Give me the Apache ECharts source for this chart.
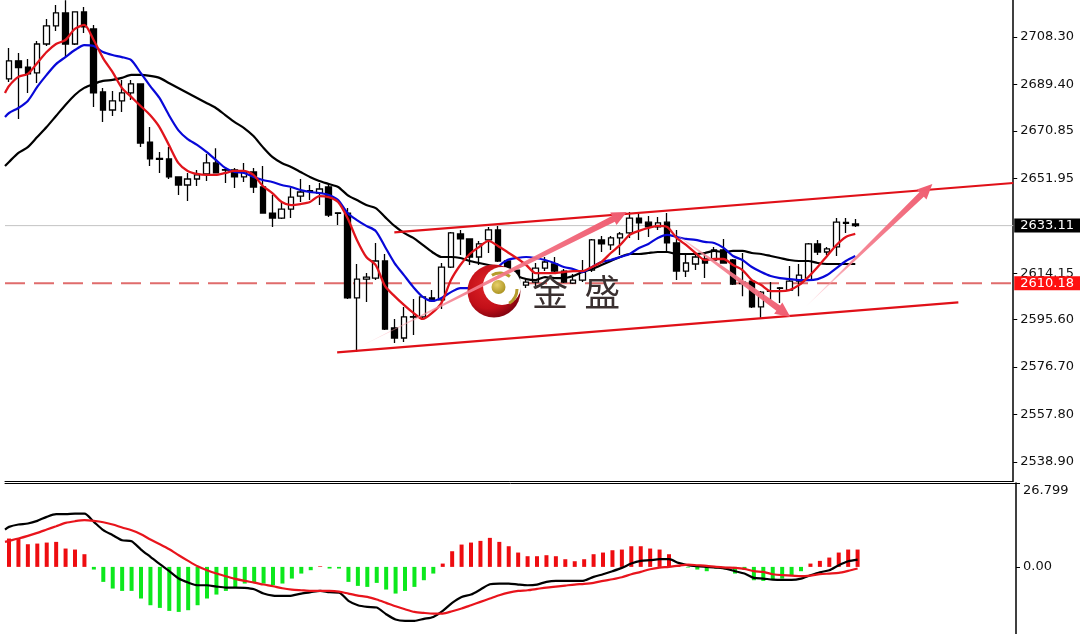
<!DOCTYPE html>
<html>
<head>
<meta charset="utf-8">
<style>html,body{margin:0;padding:0;background:#fff}#c{width:1083px;height:634px}</style>
<script src="https://cdn.jsdelivr.net/npm/echarts@6/dist/echarts.min.js"></script>
</head>
<body>
<div id="c"></div>
<script>
var opens=[2691.6,2698.8,2696.3,2694,2705.5,2712.7,2717.9,2705.5,2718.3,2711.5,2686.4,2679.2,2682.8,2686,2689.6,2666.4,2659.9,2659.7,2652.5,2649.3,2651.7,2653.7,2658.1,2655.4,2655.3,2652.5,2654.5,2648.5,2638.1,2636.1,2639.7,2644.9,2647,2646.1,2648.5,2638.2,2638.1,2604.3,2611.8,2612.2,2619,2592.3,2588.3,2596.8,2596.7,2604.3,2603.5,2616.6,2629.8,2627.8,2620.6,2627.4,2631.4,2619,2615.4,2609.4,2610.6,2616.2,2617.8,2615,2610.2,2611.4,2615.4,2627.4,2625.4,2628.2,2630.2,2636.1,2634.5,2632.6,2634.5,2626.2,2615,2617.8,2619.8,2619.4,2623.4,2619.4,2610.6,2611,2600.7,2607.1,2608.3,2607.4,2611,2611.4,2625.8,2622.6,2624.6,2634.4,2633.8];
var closes=[2698.8,2696.1,2693.6,2705.5,2712.7,2717.9,2705.5,2718.3,2712.3,2686,2679.2,2682.8,2686,2689.6,2666,2659.7,2659.5,2652.5,2649.3,2651.7,2653.3,2658.1,2654.1,2655.2,2652.5,2654.5,2648.5,2638.1,2636.1,2639.7,2644.5,2646.5,2646.8,2647.7,2637.3,2638,2604.3,2611.8,2612.6,2619,2591.9,2588.3,2596.7,2596.6,2604.7,2603.1,2616.6,2630.2,2627.8,2620.6,2625.8,2631.4,2619,2615.4,2609.8,2610.6,2616.2,2618.6,2615,2610.6,2611.4,2614.6,2627.4,2625.8,2628.2,2629.8,2636.1,2634.2,2632.6,2634.2,2626.2,2615,2618.2,2620.6,2618.2,2623.4,2618.2,2609.8,2610,2600.7,2606.6,2606.9,2608.1,2611,2613.4,2625.8,2622.6,2623.8,2634.5,2634,2633.11];
var lows=[2690.4,2675.6,2686,2690,2704.7,2710.7,2700.3,2705.1,2709.9,2680.4,2674.4,2676.8,2678.4,2683.2,2664.4,2656.9,2654.1,2651.7,2645.3,2642.9,2648.9,2650.9,2654.1,2650.1,2648.1,2650.5,2646.1,2638.1,2632.6,2635.7,2636.1,2642.5,2643.3,2641.3,2636.5,2633.4,2603.9,2582.7,2602.7,2611.4,2591.5,2586.3,2586.7,2589.5,2595.5,2602.7,2599.9,2616.2,2621.4,2617.4,2617.4,2622.2,2618.6,2614.2,2609.4,2608.2,2608.6,2615,2614.6,2610.2,2609.8,2610.6,2614.6,2622.6,2623.4,2621.4,2628.2,2627.4,2628.6,2631.4,2622.6,2611.4,2612.6,2615.4,2612.2,2619,2618.2,2609.4,2605,2600.3,2595.9,2603.5,2602.3,2607.4,2605,2611.4,2621.4,2621.4,2621,2630.2,2632.6];
var highs=[2703.9,2701.9,2699.5,2706.7,2715.5,2721.1,2723,2718.3,2720.3,2713.1,2688,2686.8,2691.2,2691.2,2689.6,2672.4,2662.5,2664.4,2652.5,2654.1,2655.3,2661.7,2664,2656.5,2656.1,2658.1,2656.1,2656.9,2645.3,2642.5,2648.1,2651.7,2649.3,2650.1,2650.1,2638.2,2640.1,2617.8,2614.2,2626.2,2621.8,2595.9,2600.7,2603.9,2604.9,2607.4,2618.2,2630.6,2631.4,2627.8,2627,2632.6,2633,2619,2615.4,2611.4,2618.2,2620.6,2620.6,2615.8,2613.8,2619.4,2627.8,2629,2629,2630.6,2638.5,2638.1,2636.9,2636.5,2638.1,2631.4,2622.2,2622.2,2622.2,2624.6,2627.8,2619.8,2622.2,2611.4,2607,2610.6,2608.6,2617,2617.8,2626.2,2627.4,2624.6,2636.1,2636.1,2635.7];
// first element of every line is the value at the left edge of the plot
var maRed=[2686,2688.8,2692.4,2693.6,2697.9,2702.3,2705.5,2707.1,2711.5,2713.1,2707.1,2699.9,2694.4,2688,2684.4,2680.8,2677.2,2672.4,2665.3,2658.1,2654.9,2653.7,2653.3,2653.3,2654.1,2654.9,2654.9,2653.3,2648.9,2646.1,2642.5,2641.3,2641.7,2642.5,2644.9,2644.5,2642.5,2636.1,2627.4,2620.6,2617.4,2609,2605,2601.5,2598.3,2595.9,2598.3,2602.3,2611.4,2617.4,2621.8,2624.6,2627,2625,2622.6,2620.2,2617.4,2614.2,2614.2,2614.2,2614.6,2615,2615,2616.6,2618.6,2622.2,2625.4,2629.4,2631,2632.2,2633,2632.6,2628.2,2625.4,2622.2,2619.4,2619.8,2619.8,2617.4,2615.4,2611.4,2609.4,2607,2607,2607.4,2609.4,2612.6,2616.6,2621,2625.4,2628.6,2629.8];
var maBlue=[2676.4,2678,2680,2682.8,2688.4,2693.2,2697.5,2700.3,2703.1,2705.1,2704.7,2702.3,2701.1,2700.3,2699.1,2694,2688.8,2684,2677.2,2671.2,2667.6,2665.3,2662.5,2659.3,2656.1,2654.5,2654.1,2652.5,2651.3,2650.5,2649.3,2648.5,2647.3,2646.5,2646.1,2645.3,2643.3,2638.1,2635.3,2633,2631,2624.6,2618.2,2613.4,2608.6,2604.7,2603.1,2604.3,2606.6,2608.2,2608.2,2609.4,2612.2,2616.6,2619.4,2620.2,2620.6,2620.2,2619.4,2618.2,2616.6,2615.8,2614.6,2616.6,2618.6,2619.4,2620.6,2621.8,2624.2,2625.8,2628.2,2629.4,2628.6,2627.8,2627.4,2626.6,2626.2,2624.2,2621,2619.4,2616.6,2614.6,2613,2612.2,2611.8,2611.4,2611.4,2611.8,2613.4,2616.2,2619,2621];
var maBlack=[2656.9,2658.5,2662.1,2664.4,2668.4,2672.4,2676.8,2681.2,2685.2,2688,2689.6,2690.8,2691.2,2692,2693.2,2693.2,2692.8,2692,2690,2688,2686,2684,2682,2680,2677.2,2674.4,2672,2668.8,2664.4,2660.5,2658.1,2656.5,2654.5,2652.5,2650.9,2649.7,2648.5,2645.3,2643.3,2641.3,2640.1,2636.5,2633,2630.2,2628.2,2625.4,2622.6,2620.6,2620.6,2620.2,2619,2618.2,2617.4,2616.6,2614.6,2613,2611.8,2611.4,2612.6,2612.2,2612.2,2613,2614.6,2615.8,2617.4,2619,2620.6,2621.8,2621.8,2622.2,2622.6,2622.6,2621.8,2621.8,2621.8,2622.2,2623,2622.6,2623,2623,2622.2,2621.8,2621,2620.2,2619.4,2619,2619,2618.2,2617.8,2617.8,2617.8,2617.8];
var histogram=[9.05,9.05,7.24,7.45,7.77,7.99,5.86,5.54,4.05,-0.85,-4.79,-6.92,-7.67,-7.67,-10.1,-12.25,-13.1,-14.06,-14.38,-13.84,-12.25,-10.1,-8.84,-7.67,-6.6,-5.32,-5.11,-5.32,-5.86,-5.32,-3.73,-2.13,-1.06,0.2,-0.53,-0.53,-4.79,-6.07,-6.39,-5.11,-7.24,-8.52,-7.67,-6.39,-4.26,-2.13,1.06,5,7.13,7.77,8.31,9.27,7.99,6.6,4.58,3.41,3.41,3.73,3.41,2.45,1.81,2.45,4.05,4.58,5.32,5.54,6.6,6.6,5.86,5.54,4.05,0.5,-0.2,-0.85,-1.38,-0.5,-0.85,-2.13,-1,-4.26,-4.47,-4.05,-3.73,-2.66,-1.38,1.06,1.92,2.98,4.58,5.54,5.54];
var macdLine=[11.93,12.78,13.53,13.85,14.7,15.98,16.83,16.83,17.04,17.04,14.38,11.72,10.12,8.52,8.2,5.54,3.2,0.85,-1.38,-3.73,-5.01,-5.86,-5.86,-6.28,-6.6,-6.6,-6.71,-7.14,-8.52,-9.16,-9.27,-9.16,-8.52,-8.09,-7.67,-8.09,-8.2,-10.86,-12.25,-12.78,-12.99,-15.12,-16.83,-17.25,-17.25,-16.61,-15.98,-14.06,-11.5,-9.59,-8.84,-7.24,-5.54,-5.33,-5.33,-5.64,-5.86,-5.64,-4.79,-4.47,-4.47,-4.47,-4.37,-3.2,-2.34,-1.38,-0.32,1.07,1.92,2.13,2.45,2.45,1.28,0.53,0.21,0,-0.21,-0.53,-1.38,-2.13,-3.51,-3.73,-4.05,-4.15,-4.15,-3.73,-2.66,-1.7,-1.07,0.53,1.81,2.34];
var signalLine=[7.99,8.31,9.05,9.9,10.86,11.93,12.99,14.06,14.59,14.91,14.7,14.27,13.53,12.57,11.72,10.44,8.73,7.24,5.64,3.73,1.92,0.21,-1.07,-2.13,-2.98,-3.83,-4.47,-5.01,-5.64,-6.18,-6.82,-7.24,-7.46,-7.67,-7.67,-7.67,-7.88,-8.52,-9.16,-9.59,-10.44,-11.5,-12.57,-13.53,-14.38,-14.7,-14.91,-14.91,-14.17,-13.31,-12.25,-11.18,-10.12,-9.05,-8.2,-7.67,-7.46,-7.03,-6.6,-6.28,-5.96,-5.64,-5.43,-5.11,-4.47,-3.94,-3.3,-2.34,-1.6,-0.75,-0.21,0,0.43,0.75,0.53,0.32,0,-0.21,-0.32,-0.64,-1.38,-1.6,-2.34,-2.66,-2.77,-2.98,-2.77,-2.34,-2.13,-1.92,-1.28,-0.53];
var priceTicks=[2708.30,2689.40,2670.85,2651.95,2614.15,2595.60,2576.70,2557.80,2538.90];
var lastPrice=2633.11, alertPrice=2610.18;
var macdTicks=[26.799,0];
var upperChannel=[[40.98,2630.4],[106.8,2650.1]];
var lowerChannel=[[34.9,2582.6],[100.96,2602.5]];
var arrows=[[37.05,2584.3,65.7,2638.5],[69.85,2632.6,83.1,2596.7],[84.7,2600.7,98.2,2649.7]];

var xMin=-0.425, xMax=106.8;
var ohlc=opens.map(function(o,i){return [i,o,closes[i],lows[i],highs[i]];});
function pts(a){return a.map(function(v,k){return [k===0?xMin:k-1,v];});}
function line(name,data,color,w,xi,yi,z,extra){
  return Object.assign({name:name,type:'line',data:data,xAxisIndex:xi,yAxisIndex:yi,symbol:'none',silent:true,
    lineStyle:{color:color,width:w},z:z,animation:false},extra||{});
}
function arrowItem(params,api){
  var a=api.coord([api.value(0),api.value(1)]), b=api.coord([api.value(2),api.value(3)]);
  var dx=b[0]-a[0],dy=b[1]-a[1],L=Math.sqrt(dx*dx+dy*dy),ux=dx/L,uy=dy/L,nx=-uy,ny=ux;
  var hl=15,hw=7,bw=3.2;
  var n=[b[0]-ux*hl,b[1]-uy*hl];
  var P=[a,[n[0]+nx*bw,n[1]+ny*bw],[n[0]+nx*hw,n[1]+ny*hw],b,[n[0]-nx*hw,n[1]-ny*hw],[n[0]-nx*bw,n[1]-ny*bw]];
  return {type:'polygon',shape:{points:P},style:{
    fill:new echarts.graphic.LinearGradient(a[0],a[1],b[0],b[1],[
      {offset:0,color:'rgba(255,190,200,0.25)'},{offset:0.35,color:'rgba(245,130,145,0.9)'},{offset:1,color:'#ef5c70'}],true)}};
}
var chart=echarts.init(document.getElementById('c'),null,{renderer:'canvas'});
var FONT='"DejaVu Sans"';
var SM=0.25;
chart.setOption({
  animation:false,
  backgroundColor:'#fff',
  grid:[{left:5,right:67,top:0,height:481},{left:5,right:67,top:483,bottom:0}],
  xAxis:[0,1].map(function(i){return {type:'value',gridIndex:i,min:xMin,max:xMax,position:i?'top':'bottom',
    axisLine:{show:true,onZero:false,lineStyle:{color:'#000',width:1}},axisTick:{show:false},axisLabel:{show:false},splitLine:{show:false}};}),
  yAxis:[
    {type:'value',gridIndex:0,position:'right',min:2531.3,max:2723.05,splitLine:{show:false},
     axisLine:{show:true,onZero:false,lineStyle:{color:'#000',width:1.5}},
     axisTick:{show:true,length:4,lineStyle:{color:'#000'},customValues:priceTicks},
     axisLabel:{show:true,margin:1,customValues:priceTicks.concat([alertPrice,lastPrice]),
       fontFamily:FONT,fontSize:13,color:'#111',hideOverlap:false,
       formatter:function(v){
         var s=v.toFixed(2);
         if(s===lastPrice.toFixed(2))return '{k|'+s+'}';
         if(s===alertPrice.toFixed(2))return '{r|'+s+'}';
         return '{n|'+s+'}';
       },
       rich:{
         n:{fontFamily:FONT,fontSize:13,color:'#111',padding:[0,0,0,6]},
         k:{fontFamily:FONT,fontSize:13,color:'#fff',backgroundColor:'#000',padding:[1,6,0,6],height:13},
         r:{fontFamily:FONT,fontSize:13,color:'#fff',backgroundColor:'#ff1010',padding:[1,6,0,6],height:13}
       }}},
    {type:'value',gridIndex:1,position:'right',min:-21.44,max:26.799,splitLine:{show:false},
     axisLine:{show:true,onZero:false,lineStyle:{color:'#000',width:1.5}},
     axisTick:{show:true,length:4,lineStyle:{color:'#000'},customValues:macdTicks},
     axisLabel:{show:true,margin:1,customValues:macdTicks,fontFamily:FONT,fontSize:13,color:'#111',hideOverlap:false,
       formatter:function(v){return v===0?'{z|0.00}':'{t|'+v.toFixed(3)+'}';},
       rich:{z:{fontFamily:FONT,fontSize:13,color:'#111',padding:[0,0,0,6]},
             t:{fontFamily:FONT,fontSize:13,color:'#111',padding:[16,0,0,6]}}}}
  ],
  graphic:[
    {type:'circle',z:6,shape:{cx:494,cy:291,r:26.5},style:{fill:new echarts.graphic.RadialGradient(0.4,0.4,0.62,[{offset:0,color:'#e02428'},{offset:0.7,color:'#c20f18'},{offset:1,color:'#860410'}])}},
    {type:'circle',z:6,shape:{cx:502,cy:286,r:19},style:{fill:'#fff'}},
    {type:'circle',z:6,shape:{cx:498.5,cy:287,r:7},style:{fill:new echarts.graphic.RadialGradient(0.4,0.35,0.7,[{offset:0,color:'#e8d06a'},{offset:1,color:'#a8901e'}])}},
    {type:'arc',z:6,shape:{cx:500,cy:289,r:16,startAngle:-2.1,endAngle:-0.9},style:{fill:'none',stroke:'#b59c2c',lineWidth:3}},
    {type:'arc',z:6,shape:{cx:500,cy:289,r:17,startAngle:0.0,endAngle:1.0},style:{fill:'none',stroke:'#b59c2c',lineWidth:3}},
    {type:'text',z:6,x:532,y:274,style:{text:'金  盛',fontFamily:'"Noto Sans CJK SC"',fontSize:36,fill:'#3a3030'}}
  ],
  series:[
    line('last',[[xMin,lastPrice],[xMax,lastPrice]],'#c4c4c4',1,0,0,1),
    line('alert',[[xMin,alertPrice],[xMax,alertPrice]],'#e06c6c',2,0,0,1,{lineStyle:{color:'#e06c6c',width:2,type:[20,9]}}),
    {type:'candlestick',name:'price',xAxisIndex:0,yAxisIndex:0,data:ohlc,barWidth:6,z:2,silent:true,animation:false,
     encode:{x:0,y:[1,2,3,4]},
     itemStyle:{color:'#fff',color0:'#000',borderColor:'#000',borderColor0:'#000',borderWidth:1.3}},
    line('maBlack',pts(maBlack),'#000',2.2,0,0,3,{smooth:SM}),
    line('maBlue',pts(maBlue),'#0808d8',2.2,0,0,4,{smooth:SM}),
    line('maRed',pts(maRed),'#e0141c',2.3,0,0,5,{smooth:SM}),
    line('upper',upperChannel,'#e01018',2.2,0,0,7),
    line('lower',lowerChannel,'#e01018',2.2,0,0,7),
    {type:'custom',name:'arrows',xAxisIndex:0,yAxisIndex:0,data:arrows,renderItem:arrowItem,z:8,silent:true,clip:false,
     encode:{x:[0,2],y:[1,3]},animation:false},
    {type:'bar',name:'hist',xAxisIndex:1,yAxisIndex:1,barWidth:4,silent:true,z:2,animation:false,
     data:histogram.map(function(v,i){return {value:[i,v],itemStyle:{color:v>=0?'#ee0c10':'#0ce81c'}};})},
    line('macd',pts(macdLine),'#000',2.2,1,1,3,{smooth:SM}),
    line('signal',pts(signalLine),'#e8141c',2.2,1,1,4,{smooth:SM})
  ]
});
</script>
</body>
</html>
